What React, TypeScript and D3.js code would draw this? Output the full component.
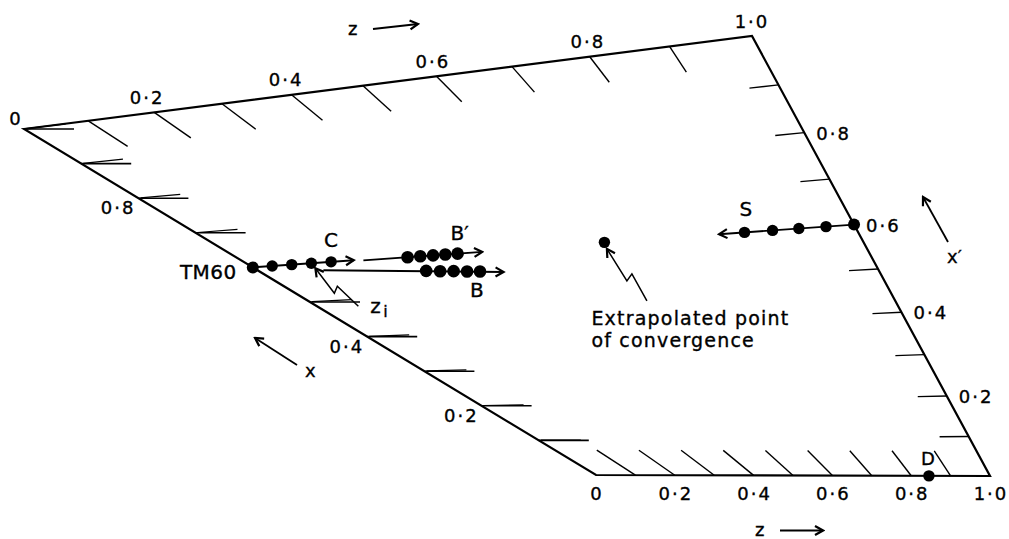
import React from "react";
import * as d3 from "d3";

type Pt = [number, number];

const W = 1009;
const H = 539;

// ---------- axis values ----------
const tickValues = d3.range(1, 10).map((i) => i / 10);
const topLabelValues = [0.2, 0.4, 0.6, 0.8, 1.0];
const bottomLabelValues = [0, 0.2, 0.4, 0.6, 0.8, 1.0];
const leftTickValues = [1.0, 0.9, 0.8, 0.7, 0.5, 0.4, 0.3, 0.2, 0.1];
const leftLabelValues = [0.8, 0.4, 0.2];
const rightTickValues = [0.9, 0.8, 0.7, 0.5, 0.4, 0.3, 0.2, 0.1];
const rightLabelValues = [0.8, 0.6, 0.4, 0.2];

// ---------- series, as (z, x) ----------
const cZ = [0, 0.035, 0.07, 0.105, 0.14];
const cX = 0.6;
const cLineZ = [0, 0.18];

const bPrimeZ = [0.272, 0.294, 0.316, 0.337, 0.358];
const bPrimeX = 0.598;
const bPrimeLineZ = [0.195, 0.4];

const bZ = [0.272, 0.294, 0.316, 0.337, 0.358];
const bX = [0.561, 0.558, 0.556, 0.553, 0.551];
const bLineZ = [0.107, 0.395];
const bLineX = [0.58, 0.546];

const sZ = [1.0, 0.957, 0.915, 0.874, 0.83];
const sX = 0.6;
const sLineZ = [1.0, 0.79];

const convergenceZX: Pt = [0.605, 0.6];
const dZX: Pt = [0.845, 0];

// ---------- geometry of the skewed frame ----------
const TL: Pt = [24, 129];
const TR: Pt = [752, 36];
const BR: Pt = [990, 476];
const BL: Pt = [596, 475];

// perspective-like scale along the top and right edges, linear along bottom and left
const projective = (b: number) => (t: number) => (t * (1 + b)) / (1 + b * t);
const topFrac = projective(-0.1285);
const rightFrac = projective(-0.1114);
const unit = d3.scaleLinear().domain([0, 1]).range([0, 1]);

const lerp = (a: Pt, b: Pt, t: number): Pt => [
  d3.interpolateNumber(a[0], b[0])(t),
  d3.interpolateNumber(a[1], b[1])(t),
];
const topPt = (z: number) => lerp(TL, TR, topFrac(z));
const bottomPt = (z: number) => lerp(BL, BR, unit(z));
const leftPt = (x: number) => lerp(BL, TL, unit(x));
const rightPt = (x: number) => lerp(BR, TR, rightFrac(x));

function intersect(p1: Pt, p2: Pt, p3: Pt, p4: Pt): Pt {
  const d1 = [p2[0] - p1[0], p2[1] - p1[1]];
  const d2 = [p4[0] - p3[0], p4[1] - p3[1]];
  const den = d1[0] * d2[1] - d1[1] * d2[0];
  const t = ((p3[0] - p1[0]) * d2[1] - (p3[1] - p1[1]) * d2[0]) / den;
  return [p1[0] + d1[0] * t, p1[1] + d1[1] * t];
}
const P = (z: number, x: number): Pt => intersect(topPt(z), bottomPt(z), leftPt(x), rightPt(x));

const fmt = (v: number) => (v === 0 ? "0" : d3.format(".1f")(v).replace(".", "·"));
const line = d3.line<Pt>();

const FONT = "DejaVu Sans, Verdana, sans-serif";

export default function App() {
  // ticks
  const topTicks = tickValues.map((z) => {
    const a = topPt(z), b = bottomPt(z);
    const k = 25.5 / (b[1] - a[1]);
    return [a, [a[0] + (b[0] - a[0]) * k, a[1] + 25.5]] as Pt[];
  });
  const bottomTicks = tickValues.map((z) => {
    const a = topPt(z), b = bottomPt(z);
    const k = 25 / (b[1] - a[1]);
    return [b, [b[0] - (b[0] - a[0]) * k, b[1] - 25]] as Pt[];
  });
  const leftTicks = leftTickValues.map((x) => {
    const a = leftPt(x), b = rightPt(x);
    const dx = b[0] - a[0], dy = b[1] - a[1];
    const len = Math.hypot(dx, dy);
    const h: Pt[] = [a, [a[0] + 50, a[1]]];
    const u: Pt[] = [
      [a[0] + 2, a[1] - 0.3],
      [a[0] + 2 + (dx / len) * 40, a[1] + (dy / len) * 40],
    ];
    return { h, u };
  });
  const rightTicks = rightTickValues.map((x) => {
    const a = leftPt(x), b = rightPt(x);
    const k = 29 / (b[0] - a[0]);
    return [b, [b[0] - 29, b[1] - (b[1] - a[1]) * k]] as Pt[];
  });

  // series positions
  const cPts = cZ.map((z) => P(z, cX));
  const cLine = cLineZ.map((z) => P(z, cX));
  const bpPts = bPrimeZ.map((z) => P(z, bPrimeX));
  const bpLine = bPrimeLineZ.map((z) => P(z, bPrimeX));
  const bPts = bZ.map((z, i) => P(z, bX[i]));
  const bLine = bLineZ.map((z, i) => P(z, bLineX[i]));
  const sPts = sZ.map((z) => P(z, sX));
  const sLine = sLineZ.map((z) => P(z, sX));
  const conv = P(convergenceZX[0], convergenceZX[1]);
  const dPt = P(dZX[0], dZX[1]);

  const zi = cPts[3];
  const ziPath: Pt[] = [
    [zi[0] + 47, zi[1] + 43],
    [zi[0] + 26, zi[1] + 23],
    [zi[0] + 23, zi[1] + 30],
    [zi[0] + 4, zi[1] + 5],
  ];
  const convPath: Pt[] = [
    [conv[0] + 42.5, conv[1] + 58.5],
    [conv[0] + 27.5, conv[1] + 31.5],
    [conv[0] + 22.5, conv[1] + 38.5],
    [conv[0] + 2.5, conv[1] + 6.5],
  ];

  const frame = line([TL, TR, BR, BL, TL]) + "Z";

  return (
    <svg
      width={W}
      height={H}
      viewBox={`0 0 ${W} ${H}`}
      style={{ position: "absolute", left: 0, top: 0, background: "#fff" }}
      fontFamily={FONT}
    >
      <defs>
        <marker
          id="arr"
          viewBox="0 0 12 12"
          refX="10"
          refY="6"
          markerWidth="12"
          markerHeight="12"
          markerUnits="userSpaceOnUse"
          orient="auto"
        >
          <path d="M2,1.5 L10,6 L2,10.5" fill="none" stroke="#000" strokeWidth="2.2" />
        </marker>
      </defs>
      <rect x={0} y={0} width={W} height={H} fill="#fff" />

      {/* frame */}
      <path d={frame} fill="none" stroke="#000" strokeWidth={2.2} strokeLinejoin="miter" />

      {/* ticks */}
      <g stroke="#000" strokeWidth={1.4} fill="none">
        {topTicks.map((t, i) => (
          <path key={"tt" + i} d={line(t) || ""} />
        ))}
        {bottomTicks.map((t, i) => (
          <path key={"bt" + i} d={line(t) || ""} />
        ))}
        {leftTicks.map((t, i) => (
          <g key={"lt" + i}>
            <path d={line(t.h) || ""} strokeWidth={1.6} />
            <path d={line(t.u) || ""} strokeWidth={1.2} />
          </g>
        ))}
        {rightTicks.map((t, i) => (
          <path key={"rt" + i} d={line(t) || ""} />
        ))}
      </g>

      {/* tick labels */}
      <g fontSize={18} fill="#000" stroke="#000" strokeWidth={0.35} letterSpacing={2}>
        <text x={TL[0] - 8} y={TL[1] - 4} textAnchor="middle">0</text>
        {topLabelValues.map((z) => {
          const p = topPt(z);
          return (
            <text key={"tl" + z} x={p[0] - 9 + 9 * z} y={p[1] - 8.5} textAnchor="middle">
              {fmt(z)}
            </text>
          );
        })}
        {bottomLabelValues.map((z) => {
          const p = bottomPt(z);
          return (
            <text key={"bl" + z} x={p[0] + 1} y={500} textAnchor="middle">
              {fmt(z)}
            </text>
          );
        })}
        {leftLabelValues.map((x) => {
          const p = leftPt(x);
          return (
            <text key={"ll" + x} x={p[0] - 3} y={p[1] + 16} textAnchor="end">
              {fmt(x)}
            </text>
          );
        })}
        {rightLabelValues.map((x) => {
          const p = rightPt(x);
          return (
            <text key={"rl" + x} x={p[0] + 12} y={p[1] + 7} textAnchor="start">
              {fmt(x)}
            </text>
          );
        })}
      </g>

      {/* axis direction labels */}
      <g fontSize={18} fill="#000" stroke="#000" strokeWidth={0.35}>
        <text x={348} y={35}>z</text>
        <text x={755} y={536}>z</text>
        <text x={305} y={377}>x</text>
        <text x={947} y={263}>x′</text>
      </g>
      <g stroke="#000" strokeWidth={1.8} fill="none">
        <path d={line([[373, 29], [418, 24]]) || ""} markerEnd="url(#arr)" />
        <path d={line([[780, 530.5], [823, 530.5]]) || ""} markerEnd="url(#arr)" />
        <path d={line([[297, 365], [255, 338]]) || ""} markerEnd="url(#arr)" />
        <path d={line([[948, 242], [923, 197]]) || ""} markerEnd="url(#arr)" />
      </g>

      {/* series lines */}
      <g stroke="#000" strokeWidth={1.9} fill="none">
        <path d={line(cLine) || ""} markerEnd="url(#arr)" />
        <path d={line(bpLine) || ""} markerEnd="url(#arr)" />
        <path d={line(bLine) || ""} markerEnd="url(#arr)" />
        <path d={line(sLine) || ""} markerEnd="url(#arr)" />
      </g>

      {/* annotation arrows */}
      <g stroke="#000" strokeWidth={1.5} fill="none" strokeLinejoin="miter">
        <path d={line(ziPath) || ""} markerEnd="url(#arr)" />
        <path d={line(convPath) || ""} markerEnd="url(#arr)" />
      </g>

      {/* points */}
      <g fill="#000">
        {cPts.map((p, i) => (
          <circle key={"c" + i} cx={p[0]} cy={p[1]} r={i === 0 ? 6 : 5.7} />
        ))}
        {bpPts.map((p, i) => (
          <circle key={"bp" + i} cx={p[0]} cy={p[1]} r={6.3} />
        ))}
        {bPts.map((p, i) => (
          <circle key={"b" + i} cx={p[0]} cy={p[1]} r={6.3} />
        ))}
        {sPts.map((p, i) => (
          <circle key={"s" + i} cx={p[0]} cy={p[1]} r={i === 0 ? 6 : 5.7} />
        ))}
        <circle cx={conv[0]} cy={conv[1]} r={5.7} />
        <circle cx={dPt[0]} cy={dPt[1]} r={5.7} />
      </g>

      {/* series labels */}
      <g fontSize={20} fill="#000" stroke="#000" strokeWidth={0.35}>
        <text x={cLine[0][0] - 16} y={cLine[0][1] + 12} textAnchor="end" letterSpacing={0.5}>
          TM60
        </text>
        <text x={cPts[4][0] - 7} y={cPts[4][1] - 15}>C</text>
        <text x={bpPts[4][0] - 7} y={bpPts[4][1] - 14}>B′</text>
        <text x={bPts[4][0] - 10} y={bPts[4][1] + 26}>B</text>
        <text x={sPts[4][0] - 5} y={sPts[4][1] - 16}>S</text>
        <text x={dPt[0] - 8} y={dPt[1] - 11} fontSize={18}>D</text>
        <text x={zi[0] + 59} y={zi[1] + 50}>z</text>
        <text x={zi[0] + 72} y={zi[1] + 54} fontSize={16}>i</text>
        <text x={conv[0] - 13} y={conv[1] + 83} letterSpacing={1.2} fontSize={19}>
          Extrapolated point
        </text>
        <text x={conv[0] - 13} y={conv[1] + 105} letterSpacing={1.2} fontSize={19}>
          of convergence
        </text>
      </g>
    </svg>
  );
}
